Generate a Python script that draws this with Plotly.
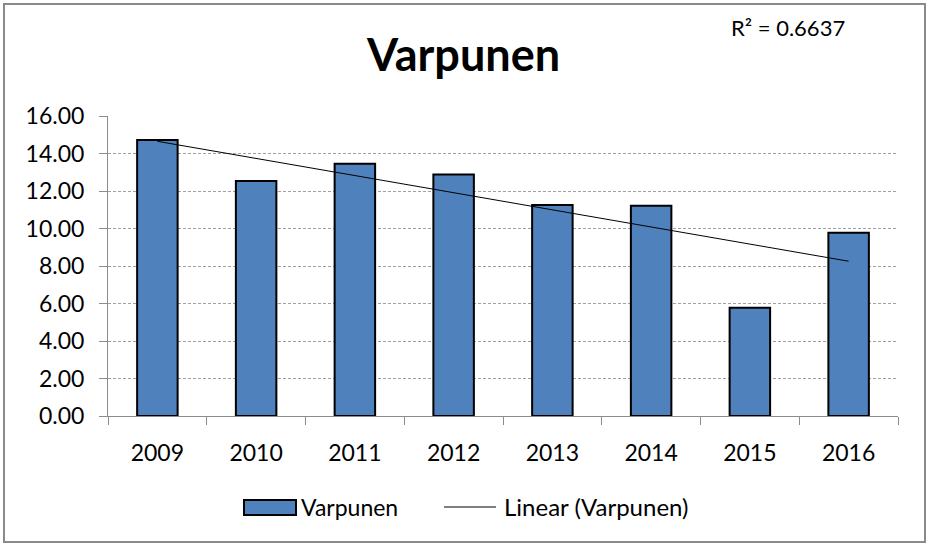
import numpy as np
import plotly.graph_objects as go

# Yearly values for Varpunen
years = ["2009", "2010", "2011", "2012", "2013", "2014", "2015", "2016"]
values = [14.72, 12.54, 13.45, 12.88, 11.26, 11.22, 5.78, 9.77]
y_ticks = [0, 2, 4, 6, 8, 10, 12, 14, 16]
r2_label = "R² = 0.6637"

FONT = "Lato"
BAR_COLOR = "#4F81BD"

# Least-squares linear trend over the year index
idx = np.arange(len(values))
slope, intercept = np.polyfit(idx, values, 1)
trend = slope * idx + intercept

fig = go.Figure()
fig.add_trace(go.Bar(
    x=years, y=values, name="Varpunen",
    marker=dict(color=BAR_COLOR, line=dict(color="#000000", width=2)),
    width=0.41,
))
fig.add_trace(go.Scatter(
    x=years, y=trend, mode="lines", name="Linear (Varpunen)",
    line=dict(color="#000000", width=1),
))

fig.update_layout(
    width=927, height=544,
    margin=dict(l=108, r=29, t=116, b=128),
    paper_bgcolor="white", plot_bgcolor="white",
    showlegend=False,
    font=dict(family=FONT, color="#000000"),
    title=dict(text="<b>Varpunen</b>", x=0.5, xanchor="center",
               y=1 - 55 / 544, yanchor="middle",
               font=dict(family=FONT, size=45, color="#000000")),
)

fig.update_xaxes(
    type="category", showline=True, linecolor="#8c8c8c", linewidth=1,
    ticks="outside", tickson="boundaries", ticklen=8, tickcolor="#8c8c8c",
    showgrid=False, ticklabelstandoff=16,
    tickfont=dict(size=23, family=FONT, color="#000000"),
)
fig.update_yaxes(
    range=[0, 16], tickvals=y_ticks, tickformat=".2f",
    showline=True, linecolor="#8c8c8c", linewidth=1,
    ticks="outside", ticklen=8, tickcolor="#8c8c8c",
    showgrid=True, gridcolor="#a0a0a0", griddash="3px,2px", gridwidth=1,
    zeroline=False, ticklabelstandoff=10,
    tickfont=dict(size=23, family=FONT, color="#000000"),
)

# Chart frame
fig.add_shape(type="rect", xref="paper", yref="paper",
              x0=-104 / 790, x1=1 + 27 / 790, y0=-126 / 300, y1=1 + 112 / 300,
              line=dict(color="#8a8a8a", width=2), layer="below")

# R-squared of the trend
fig.add_annotation(text=r2_label, xref="paper", yref="paper",
                   x=(788 - 108) / 790, y=(416 - 27) / 300,
                   xanchor="center", yanchor="middle", showarrow=False,
                   font=dict(size=22, family=FONT, color="#000000"))

# Legend drawn below the axis
def px(xp):
    return (xp - 108) / 790

def py(yp):
    return (416 - yp) / 300

fig.add_shape(type="rect", xref="paper", yref="paper",
              x0=px(244), x1=px(296), y0=py(515), y1=py(500),
              fillcolor=BAR_COLOR, line=dict(color="#000000", width=2))
fig.add_annotation(text="Varpunen", xref="paper", yref="paper",
                   x=px(299), y=py(507), xanchor="left", yanchor="middle",
                   showarrow=False, font=dict(size=23, family=FONT, color="#000000"))
fig.add_shape(type="line", xref="paper", yref="paper",
              x0=px(444), x1=px(496), y0=py(507), y1=py(507),
              line=dict(color="#000000", width=1))
fig.add_annotation(text="Linear (Varpunen)", xref="paper", yref="paper",
                   x=px(502), y=py(507), xanchor="left", yanchor="middle",
                   showarrow=False, font=dict(size=24, family=FONT, color="#000000"))

fig.write_html("out.html")
